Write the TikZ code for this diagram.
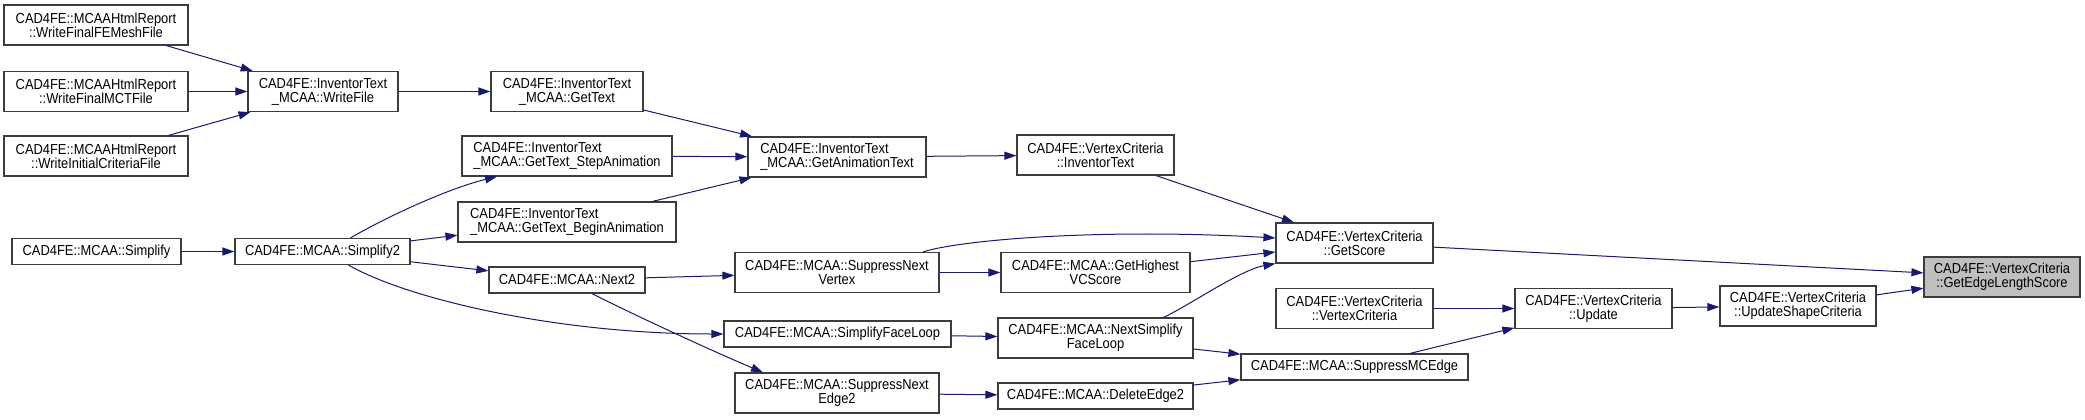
\documentclass[tikz,border=0pt]{standalone}
\usepackage{fontspec}
\setmainfont{Liberation Sans}[FakeStretch=0.89]
\usetikzlibrary{arrows.meta}
\definecolor{edgeblue}{RGB}{25,25,112}
\definecolor{boxline}{RGB}{60,60,60}
\definecolor{curfill}{RGB}{191,191,191}
\begin{document}
\begin{tikzpicture}[x=1pt,y=-1pt,
  fn/.style={draw=boxline, line width=1.2pt, fill=white, inner sep=0pt,
    minimum height=40pt, align=center, font=\fontsize{14.5}{14}\selectfont},
  fnl/.style={fn, align=left},
  fn1/.style={fn, minimum height=26pt},
  call/.style={draw=edgeblue, line width=1pt, -{Triangle[length=12pt,width=8pt]}},
]
\fill[white] (0,0) rectangle (2085,420);
\useasboundingbox (0,0) rectangle (2085,420);

% column 1
\node[fn, minimum width=184pt] (w1) at (96,25) {CAD4FE::MCAAHtmlReport\\::WriteFinalFEMeshFile};
\node[fn, minimum width=184pt] (w2) at (96,91.5) {CAD4FE::MCAAHtmlReport\\::WriteFinalMCTFile};
\node[fn, minimum width=184pt] (w3) at (96,156) {CAD4FE::MCAAHtmlReport\\::WriteInitialCriteriaFile};
\node[fn1, minimum width=169pt] (simp) at (96.5,251.5) {CAD4FE::MCAA::Simplify};
% column 2
\node[fn, minimum width=150pt] (wf) at (323,91.5) {CAD4FE::InventorText\\\_MCAA::WriteFile};
\node[fn1, minimum width=175pt] (s2) at (322.5,251.5) {CAD4FE::MCAA::Simplify2};
% column 3
\node[fn, minimum width=152pt] (gt) at (567,91.5) {CAD4FE::InventorText\\\_MCAA::GetText};
\node[fnl, minimum width=210pt] (step) at (567,156) {CAD4FE::InventorText\\\_MCAA::GetText\_StepAnimation};
\node[fnl, minimum width=218pt] (begin) at (567,222) {CAD4FE::InventorText\\\_MCAA::GetText\_BeginAnimation};
\node[fn1, minimum width=156pt] (n2) at (567,280) {CAD4FE::MCAA::Next2};
% column 4
\node[fnl, minimum width=178pt] (gat) at (837,157) {CAD4FE::InventorText\\\_MCAA::GetAnimationText};
\node[fn, minimum width=204pt] (snv) at (837,272.5) {CAD4FE::MCAA::SuppressNext\\Vertex};
\node[fn1, minimum width=227pt] (sfl) at (837.5,334) {CAD4FE::MCAA::SimplifyFaceLoop};
\node[fn, minimum width=204pt] (sne) at (837,393) {CAD4FE::MCAA::SuppressNext\\Edge2};
% column 5
\node[fn, minimum width=157pt] (vit) at (1095.5,155) {CAD4FE::VertexCriteria\\::InventorText};
\node[fn, minimum width=189pt] (ghv) at (1095.5,272.5) {CAD4FE::MCAA::GetHighest\\VCScore};
\node[fn, minimum width=195pt] (nsf) at (1095.5,338) {CAD4FE::MCAA::NextSimplify\\FaceLoop};
\node[fn1, minimum width=195pt] (de2) at (1095.5,396) {CAD4FE::MCAA::DeleteEdge2};
% column 6
\node[fn, minimum width=157pt] (gs) at (1354.5,243) {CAD4FE::VertexCriteria\\::GetScore};
\node[fn, minimum width=157pt] (vvc) at (1354.5,308.5) {CAD4FE::VertexCriteria\\::VertexCriteria};
\node[fn1, minimum width=227pt] (smc) at (1354.5,367) {CAD4FE::MCAA::SuppressMCEdge};
% columns 7-9
\node[fn, minimum width=157pt] (upd) at (1593.5,308.5) {CAD4FE::VertexCriteria\\::Update};
\node[fn, minimum width=156pt] (usc) at (1798,306) {CAD4FE::VertexCriteria\\::UpdateShapeCriteria};
\node[fn, minimum width=156pt, fill=curfill] (gel) at (2002,277) {CAD4FE::VertexCriteria\\::GetEdgeLengthScore};

% connectors
\draw[call] (w1) -- (wf);
\draw[call] (w2) -- (wf);
\draw[call] (w3) -- (wf);
\draw[call] (wf) -- (gt);
\draw[call] (gt) -- (gat);
\draw[call] (step) -- (gat);
\draw[call] (begin) -- (gat);
\draw[call] (gat) -- (vit);
\draw[call] (vit) -- (gs);
\draw[call] (simp) -- (s2);
\draw[call] ([shift={(28,0)}]s2.north) .. controls (390,215) and (450,188) .. ([shift={(-70,0)}]step.south);
\draw[call] (s2) -- (begin);
\draw[call] (s2) -- (n2);
\draw[call] ([shift={(26,0)}]s2.south) .. controls (410,300) and (560,334) .. (sfl.west);
\draw[call] (n2) -- (snv);
\draw[call] ([shift={(25,0)}]n2.south) .. controls (630,313) and (710,350) .. ([shift={(-74,0)}]sne.north);
\draw[call] ([shift={(86,0)}]snv.north) .. controls (960,240) and (1100,228) .. ([shift={(0,-5)}]gs.west);
\draw[call] (snv) -- (ghv);
\draw[call] (ghv) -- (gs);
\draw[call] ([shift={(68,0)}]nsf.north) .. controls (1190,305) and (1240,270) .. (gs.south west);
\draw[call] (sfl) -- (nsf);
\draw[call] (nsf) -- (smc);
\draw[call] (sne) -- (de2);
\draw[call] (de2) -- (smc);
\draw[call] (gs) -- (gel);
\draw[call] (vvc) -- (upd);
\draw[call] (smc) -- (upd);
\draw[call] (upd) -- (usc);
\draw[call] (usc) -- (gel);
\end{tikzpicture}
\end{document}
